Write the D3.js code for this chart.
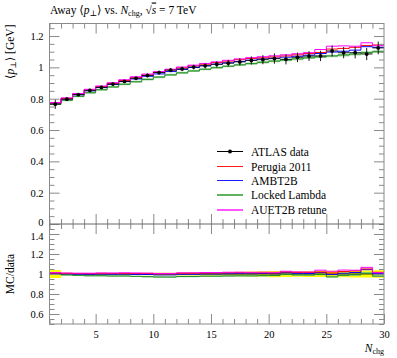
<!DOCTYPE html>
<html><head><meta charset="utf-8">
<script src="https://cdn.jsdelivr.net/npm/d3@7"></script>
<style>
body{margin:0;background:#fff;}
text{font-family:"Liberation Serif","DejaVu Serif",serif;}
</style></head>
<body><svg id="c" width="397" height="358"></svg>
<script>
// ---- data ----
const binEdges = [1,2,3,4,5,6,7,8,9,10,11,12,13,14,15,16,17,18,19,20,21,22,23,24,25,26,27,28,29,30];
const dataVals = [0.765,0.797,0.826,0.853,0.872,0.893,0.910,0.930,0.948,0.967,0.982,0.990,1.002,1.010,1.020,1.027,1.035,1.044,1.049,1.056,1.051,1.064,1.072,1.073,1.105,1.094,1.094,1.085,1.124];
const dataErr  = [0.030,0.010,0.009,0.009,0.009,0.009,0.010,0.010,0.011,0.012,0.013,0.014,0.015,0.017,0.019,0.021,0.023,0.026,0.029,0.033,0.032,0.030,0.031,0.033,0.035,0.036,0.037,0.039,0.041];
const perugia  = [0.773,0.802,0.830,0.856,0.878,0.898,0.916,0.934,0.952,0.968,0.984,0.997,1.010,1.020,1.031,1.040,1.049,1.057,1.061,1.067,1.073,1.080,1.088,1.095,1.117,1.121,1.128,1.140,1.143];
const ambt2b   = [0.772,0.799,0.825,0.850,0.871,0.891,0.909,0.926,0.943,0.958,0.973,0.987,0.999,1.010,1.020,1.029,1.038,1.046,1.054,1.059,1.065,1.071,1.078,1.088,1.098,1.103,1.110,1.132,1.128];
const locked   = [0.765,0.790,0.815,0.838,0.857,0.875,0.892,0.908,0.923,0.938,0.952,0.965,0.977,0.988,0.998,1.007,1.016,1.024,1.032,1.040,1.047,1.054,1.061,1.067,1.073,1.079,1.085,1.094,1.100];
const lockedErr= [0.006,0.006,0.006,0.006,0.006,0.006,0.006,0.006,0.007,0.007,0.007,0.007,0.007,0.007,0.007,0.007,0.007,0.007,0.008,0.008,0.008,0.008,0.008,0.008,0.008,0.009,0.009,0.009,0.009];
const auet2b   = [0.775,0.805,0.833,0.860,0.881,0.902,0.921,0.940,0.957,0.973,0.988,1.002,1.014,1.025,1.035,1.045,1.054,1.062,1.068,1.074,1.080,1.087,1.094,1.114,1.135,1.137,1.135,1.157,1.138];
const xTicks = [5,10,15,20,25,30];
const yTicksMain = [0,0.2,0.4,0.6,0.8,1,1.2];
const yTicksRatio = [0.6,0.8,1,1.2,1.4];
const legendNames = ["ATLAS data","Perugia 2011","AMBT2B","Locked Lambda","AUET2B retune"];

const svg = d3.select("#c");
const L=49.5, R=384, T=23.5, M=224, B=324;
const x = d3.scaleLinear().domain([1,30]).range([L,R]);
const y = d3.scaleLinear().domain([0,1.28]).range([M,T]);
const yr = d3.scaleLinear().domain([0.5,1.5]).range([B,M]);
const frameCol = "#8a8a8a";
const fmt = d3.format("~g");

const nb = dataVals.length;
const bins = d3.range(nb).map(i=>({lo:binEdges[i],hi:binEdges[i+1],c:(binEdges[i]+binEdges[i+1])/2,i}));

function stepPts(vals){const p=[];bins.forEach(b=>{p.push([b.lo,vals[b.i]]);p.push([b.hi,vals[b.i]]);});return p;}
function bandArea(lo,hi,sy){
  const pts=[];bins.forEach(b=>{pts.push({x:b.lo,a:lo[b.i],b:hi[b.i]});pts.push({x:b.hi,a:lo[b.i],b:hi[b.i]});});
  return d3.area().x(d=>x(d.x)).y0(d=>sy(d.a)).y1(d=>sy(d.b))(pts);
}

// ---- main panel ----
const gm = svg.append("g");
gm.append("path").attr("d",bandArea(locked.map((v,i)=>v-lockedErr[i]),locked.map((v,i)=>v+lockedErr[i]),y))
  .attr("fill","#a8d8a8");
const series = [
  {v:locked,c:"#1f8f1f",w:1},
  {v:ambt2b,c:"#0000ff",w:1},
  {v:perugia,c:"#ff0000",w:1},
  {v:auet2b,c:"#ff00ff",w:1}
];
const line = d3.line().x(d=>x(d[0])).y(d=>y(d[1]));
series.forEach(s=>gm.append("path").attr("d",line(stepPts(s.v))).attr("fill","none").attr("stroke",s.c).attr("stroke-width",s.w));
// data
bins.forEach(b=>{
  const v=dataVals[b.i],e=dataErr[b.i];
  gm.append("line").attr("x1",x(b.lo)).attr("x2",x(b.hi)).attr("y1",y(v)).attr("y2",y(v)).attr("stroke","#000").attr("stroke-width",0.8);
  gm.append("line").attr("x1",x(b.c)).attr("x2",x(b.c)).attr("y1",y(v-e)).attr("y2",y(v+e)).attr("stroke","#000").attr("stroke-width",0.9);
  gm.append("circle").attr("cx",x(b.c)).attr("cy",y(v)).attr("r",1.9).attr("fill","#000");
});

// ---- ratio panel ----
const gr = svg.append("g");
gr.append("path").attr("d",bandArea(dataVals.map((v,i)=>1-dataErr[i]/v),dataVals.map((v,i)=>1+dataErr[i]/v),yr)).attr("fill","#ffff00");
gr.append("path").attr("d",bandArea(locked.map((v,i)=>(v-lockedErr[i])/dataVals[i]),locked.map((v,i)=>(v+lockedErr[i])/dataVals[i]),yr))
  .attr("fill","#a8d8a8");
const rline = d3.line().x(d=>x(d[0])).y(d=>yr(d[1]));
gr.append("path").attr("d",rline(stepPts(dataVals.map(()=>1)))).attr("fill","none").attr("stroke","#000").attr("stroke-width",0.8);
series.forEach(s=>gr.append("path").attr("d",rline(stepPts(s.v.map((v,i)=>v/dataVals[i])))).attr("fill","none").attr("stroke",s.c).attr("stroke-width",s.w));

// ---- axes ----
const minorX = d3.range(1,31).filter(v=>v%5!==0);
const minorYm = d3.range(0,1.2801,0.05).map(v=>+v.toFixed(2)).filter(v=>!yTicksMain.some(t=>Math.abs(t-v)<1e-6));
const minorYr = d3.range(0.5,1.5001,0.05).map(v=>+v.toFixed(2)).filter(v=>!yTicksRatio.some(t=>Math.abs(t-v)<1e-6));

function styleAxis(g){g.select(".domain").remove();g.selectAll("line").attr("stroke",frameCol);g.selectAll("text").attr("font-size",10.5).attr("fill","#000").attr("font-family","Liberation Serif, serif");}
function ax(gen,tr,vals,size,labels,pad){
  const a=gen.tickValues(vals).tickSize(size).tickPadding(pad||6);
  if(!labels) a.tickFormat(""); else a.tickFormat(fmt);
  const g=svg.append("g").attr("transform",tr).call(a);styleAxis(g);return g;
}
// main y
ax(d3.axisLeft(y),`translate(${L},0)`,yTicksMain,-10,true,6).selectAll("text").attr("dy",d=>d===0?"0.1em":"0.32em");
ax(d3.axisLeft(y),`translate(${L},0)`,minorYm,-5,false);
ax(d3.axisRight(y),`translate(${R},0)`,yTicksMain.filter(v=>v>0),-10,false);
ax(d3.axisRight(y),`translate(${R},0)`,minorYm,-5,false);
// ratio y
ax(d3.axisLeft(yr),`translate(${L},0)`,yTicksRatio,-10,true,6).selectAll("text").attr("dy",d=>d===1.4?"0.55em":"0.32em");
ax(d3.axisLeft(yr),`translate(${L},0)`,minorYr,-5,false);
ax(d3.axisRight(yr),`translate(${R},0)`,yTicksRatio,-10,false);
ax(d3.axisRight(yr),`translate(${R},0)`,minorYr,-5,false);
// x axes
ax(d3.axisTop(x),`translate(0,${T})`,xTicks.filter(v=>v<30),-10,false);
ax(d3.axisTop(x),`translate(0,${T})`,minorX,-5,false);
ax(d3.axisBottom(x),`translate(0,${M})`,xTicks.filter(v=>v<30),-10,false);
ax(d3.axisBottom(x),`translate(0,${M})`,minorX,-5,false);
ax(d3.axisTop(x),`translate(0,${M})`,xTicks.filter(v=>v<30),-10,false);
ax(d3.axisTop(x),`translate(0,${M})`,minorX,-5,false);
ax(d3.axisBottom(x),`translate(0,${B})`,xTicks,-10,true,7);
ax(d3.axisBottom(x),`translate(0,${B})`,minorX,-5,false);

// frame
svg.append("rect").attr("x",L).attr("y",T).attr("width",R-L).attr("height",B-T).attr("fill","none").attr("stroke",frameCol).attr("stroke-width",1);
svg.append("line").attr("x1",L).attr("x2",R).attr("y1",M).attr("y2",M).attr("stroke","#666").attr("stroke-width",1);

// ---- texts ----
const title = svg.append("text").attr("x",50).attr("y",13.5).attr("font-size",11.5);
title.append("tspan").text("Away ⟨");
title.append("tspan").attr("font-style","italic").text("p");
title.append("tspan").attr("font-size",8).attr("dy",2).text("⊥");
title.append("tspan").attr("dy",-2).text("⟩ vs. ");
title.append("tspan").attr("font-style","italic").text("N");
title.append("tspan").attr("font-size",8).attr("dy",2).text("chg");
title.append("tspan").attr("dy",-2).text(", √");
title.append("tspan").attr("font-style","italic").style("text-decoration","overline").text("s");
title.append("tspan").text(" = 7 TeV");

const yl = svg.append("text").attr("transform",`translate(14,${T+1}) rotate(-90)`).attr("text-anchor","end").attr("font-size",11.5);
yl.append("tspan").text("⟨");
yl.append("tspan").attr("font-style","italic").text("p");
yl.append("tspan").attr("font-size",8).attr("dy",2).text("⊥");
yl.append("tspan").attr("dy",-2).text("⟩ [GeV]");

svg.append("text").attr("transform",`translate(14,${yr(1)}) rotate(-90)`).attr("text-anchor","middle").attr("font-size",11.5).text("MC/data");

const xl = svg.append("text").attr("x",R).attr("y",352).attr("text-anchor","end").attr("font-size",11.5);
xl.append("tspan").attr("font-style","italic").text("N");
xl.append("tspan").attr("font-size",8).attr("dy",2).text("chg");

// ---- legend ----
const legCols = ["#000000","#ff1a1a","#1a1aff","#5fb35f","#ff55ff"];
const legW = [1,1,1,2,2];
const lg = svg.append("g");
legendNames.forEach((n,i)=>{
  const cy = Math.round(150.7 + i*14.8) + (legW[i]===1?0.5:0);
  lg.append("line").attr("x1",217).attr("x2",243).attr("y1",cy).attr("y2",cy).attr("stroke",legCols[i]).attr("stroke-width",legW[i]);
  if(i===0) lg.append("circle").attr("cx",230).attr("cy",cy).attr("r",2).attr("fill","#000");
  lg.append("text").attr("x",251).attr("y",cy+4).attr("font-size",11.5).text(n);
});
</script></body></html>
